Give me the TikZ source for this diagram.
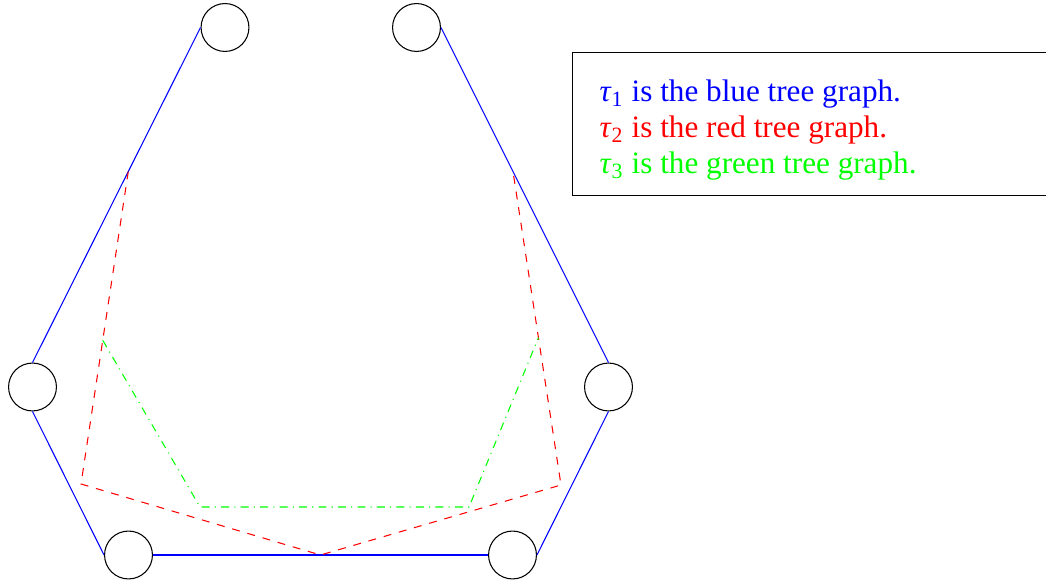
\documentclass[tikz,border=0pt]{standalone}
\usepackage{fontspec}
\setmainfont{Liberation Serif}
\usepackage{tikz}
\usetikzlibrary{calc}

\tikzset{
  vertex/.style={circle,draw=black,minimum size=18.2pt,inner sep=0pt},
  bluetree/.style={blue},
  redtree/.style={red,dashed},
  greentree/.style={green,dash dot},
}

\begin{document}
\begin{tikzpicture}[x=0.38pt,y=-0.38pt]
  \clip (0,0) rectangle (1046,584);
  % vertices of the hexagon
  \node[vertex] (v1) at (225,27.5) {};
  \node[vertex] (v2) at (416.5,27.5) {};
  \node[vertex] (v3) at (32.5,387) {};
  \node[vertex] (v4) at (608.5,387) {};
  \node[vertex] (v5) at (128.5,555) {};
  \node[vertex] (v6) at (512.5,555) {};
  % tau_1
  \draw[bluetree] (v1.west) -- (v3.north);
  \draw[bluetree] (v3.south) -- (v5.west);
  \draw[bluetree] (v5.east) -- (v6.west);
  \draw[bluetree] (v6.east) -- (v4.south);
  \draw[bluetree] (v4.north) -- (v2.east);
  % tau_2
  \coordinate (r1) at ($(v1.west)!0.43!(v3.north)$);
  \coordinate (r2) at (81,484);
  \coordinate (r3) at ($(v5.east)!0.5!(v6.west)$);
  \coordinate (r4) at (561,485);
  \coordinate (r5) at ($(v2.east)!0.43!(v4.north)$);
  \draw[redtree] (r1) -- (r2) -- (r3) -- (r4) -- (r5);
  % tau_3
  \coordinate (g1) at ($(r1)!0.54!(r2)$);
  \coordinate (g2) at (200,507);
  \coordinate (g3) at (469,507);
  \coordinate (g4) at ($(r5)!0.53!(r4)$);
  \draw[greentree] (g1) -- (g2) -- (g3) -- (g4);
  % legend
  \draw (1060,52.3) -- (572.7,52.3) -- (572.7,195.7) -- (1060,195.7);
  \node[anchor=west,inner sep=0pt,align=left,
        font=\fontsize{11.85}{13.7}\selectfont] (legend) at (599,130)
    {\textcolor{blue}{\textit{τ}\textsubscript{1} is the blue tree graph.}\\
     \textcolor{red}{\textit{τ}\textsubscript{2} is the red tree graph.}\\
     \textcolor{green}{\textit{τ}\textsubscript{3} is the green tree graph.}};
\end{tikzpicture}
\end{document}
